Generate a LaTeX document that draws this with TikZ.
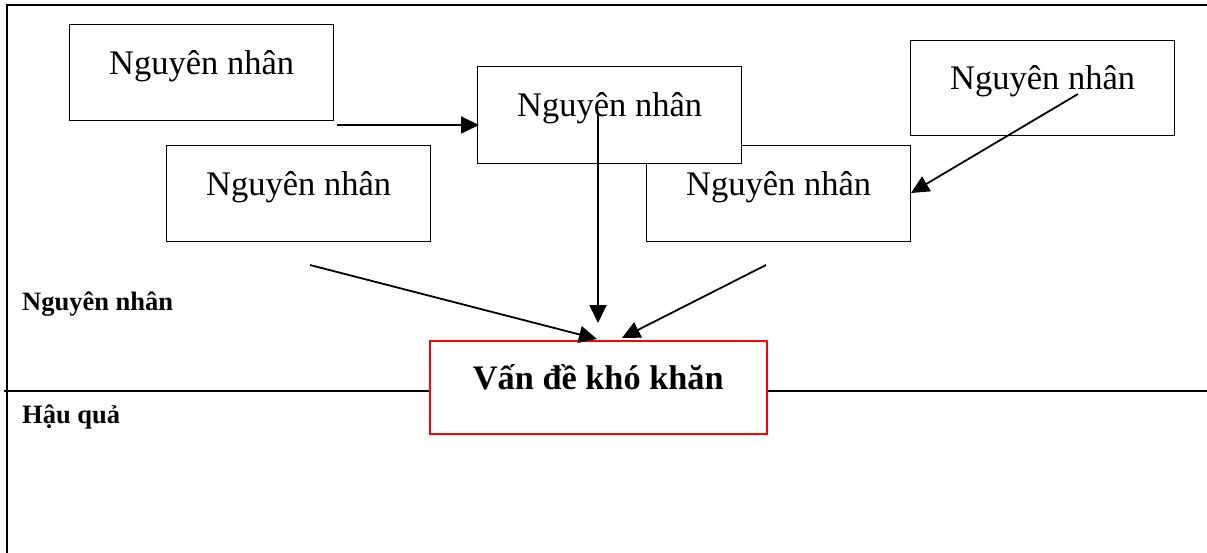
\documentclass[tikz,border=0pt]{standalone}
\usepackage{fontspec}
\setmainfont{Liberation Serif}
\usetikzlibrary{arrows.meta}
\tikzset{
  causebox/.style={draw=black, line width=1.3pt, fill=white, minimum width=264, inner sep=0pt,
    text height=50, text depth=46, anchor=north west, font=\fontsize{34.5}{40}\selectfont},
  probbox/.style={draw=red, line width=1.6pt, fill=white, minimum width=337, inner sep=0pt,
    text height=49, text depth=44, anchor=north west, font=\fontsize{34.3}{40}\selectfont\bfseries},
  frameline/.style={line width=2.6pt, line cap=rect},
  arr/.style={line width=1.8pt, -{Triangle[length=18pt,width=17pt]}},
  sidelabel/.style={anchor=base west, inner sep=0pt, font=\fontsize{26.5}{30}\selectfont\bfseries}
}
\begin{document}
\begin{tikzpicture}[x=1pt,y=-1pt]
\useasboundingbox (0,0) rectangle (1207,553);
% frame
\coordinate (tl) at (7,5);
\coordinate (tr) at (1207,5);
\coordinate (bl) at (7,553);
\coordinate (ml) at (5,391);
\coordinate (mr) at (1207,391);
\draw[frameline] (tr) -- (tl) -- (bl);
\draw[frameline] (ml) -- (mr);
% labels
\node[sidelabel] (lcause) at (22,310) {Nguyên nhân};
\node[sidelabel] (lcons) at (22,423) {Hậu quả};
% cause boxes
\node[causebox] (D) at (646,145) {Nguyên nhân};
\node[causebox, text depth=47] (B) at (477,66) {Nguyên nhân};
\node[causebox] (A) at (69,24) {Nguyên nhân};
\node[causebox] (C) at (166,145) {Nguyên nhân};
\node[causebox, text height=49] (E) at (910,40) {Nguyên nhân};
% problem box
\node[probbox] (P) at (429,340) {Vấn đề khó khăn};
% arrow end points
\coordinate (a1s) at (337,125);
\coordinate (a1e) at (479,125);
\coordinate (a2s) at (1078,94);
\coordinate (a2e) at (911,193);
\coordinate (a3s) at (598,115);
\coordinate (a3e) at (598,323);
\coordinate (a4s) at (310,265);
\coordinate (a4e) at (597,339);
\coordinate (a5s) at (766,265);
\coordinate (a5e) at (622,338);
\draw[arr] (a1s) -- (a1e);
\draw[arr] (a2s) -- (a2e);
\draw[arr] (a3s) -- (a3e);
\draw[arr] (a4s) -- (a4e);
\draw[arr] (a5s) -- (a5e);
\end{tikzpicture}
\end{document}
